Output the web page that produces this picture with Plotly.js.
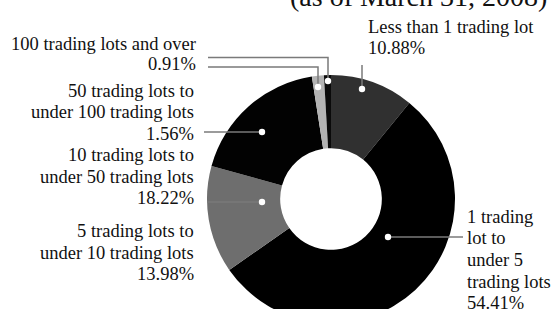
<!DOCTYPE html>
<html>
<head>
<meta charset="utf-8">
<script src="https://cdn.plot.ly/plotly-3.0.1.min.js"></script>
<style>
html,body{margin:0;padding:0;background:#fff;overflow:hidden;width:553px;height:309px;}
#chart{width:553px;height:340px;}
</style>
</head>
<body>
<div id="chart"></div>
<script>
// ---- data ----
const categories = [
  "Less than 1 trading lot",
  "1 trading lot to under 5 trading lots",
  "5 trading lots to under 10 trading lots",
  "10 trading lots to under 50 trading lots",
  "50 trading lots to under 100 trading lots",
  "100 trading lots and over"
];
const shares = [10.88, 54.41, 13.98, 18.22, 1.56, 0.91];
const labelLines = [
  ["Less than 1 trading lot"],
  ["1 trading", "lot to", "under 5", "trading lots"],
  ["5 trading lots to", "under 10 trading lots"],
  ["10 trading lots to", "under 50 trading lots"],
  ["50 trading lots to", "under 100 trading lots"],
  ["100 trading lots and over"]
];
const titleText = "(as of March 31, 2008)";

// ---- styling / layout ----
const W = 553, H = 340;
const px = x => x / W;
const py = y => 1 - y / H;
const sliceColors = ["#303030", "#000000", "#6e6e6e", "#020202", "#b3b3b3", "#0a0a0a"];
const FONT = "Liberation Serif, Times New Roman, serif";
const FS = 18.5;
const LS = 21.5;

// label placement: [anchor x px, xanchor, first line centre y px]
const labelPos = [
  [367, "left", 27],
  [466, "left", 217],
  [195, "right", 231],
  [195, "right", 155],
  [195, "right", 91],
  [197, "right", 44]
];
// leader lines (pixel paths); dot sits at the pie end
const leaders = [
  {pts: [[362, 65], [362, 89]], dot: 1},
  {pts: [[388, 237], [463, 237]], dot: 0},
  {pts: [[207, 202], [262, 202]], dot: 1},
  {pts: [[204, 132], [262, 132]], dot: 1},
  {pts: [[208, 57.5], [328, 57.5], [328, 81]], dot: 2},
  {pts: [[208, 67], [318, 67], [318, 87]], dot: 2}
];

const annotations = [];
// title (partly above the visible area, as in the reference)
annotations.push({
  text: titleText, showarrow: false, xref: "paper", yref: "paper",
  x: px(548), y: py(-4), xanchor: "right", yanchor: "middle",
  font: {family: FONT, size: 28, color: "#111"}, borderpad: 0
});
categories.forEach((c, i) => {
  const lines = labelLines[i].concat([shares[i].toFixed(2) + "%"]);
  const [ax, anc, y0] = labelPos[i];
  lines.forEach((t, k) => {
    annotations.push({
      text: t, showarrow: false, xref: "paper", yref: "paper",
      x: px(ax), y: py(y0 + k * (i === 5 ? 20 : LS)), xanchor: anc, yanchor: "middle",
      font: {family: FONT, size: FS, color: "#111"}, borderpad: 0
    });
  });
});

const shapes = [];
leaders.forEach(l => {
  const d = l.pts.map((p, k) => (k ? "L" : "M") + px(p[0]) + "," + py(p[1])).join(" ");
  shapes.push({type: "path", xref: "paper", yref: "paper", path: d,
    line: {color: "#7a7a7a", width: 1.5}});
});
leaders.forEach(l => {
  const p = l.pts[l.dot], r = 3.2;
  shapes.push({type: "circle", xref: "paper", yref: "paper",
    x0: px(p[0] - r), x1: px(p[0] + r), y0: py(p[1] + r), y1: py(p[1] - r),
    fillcolor: "#ffffff", line: {width: 0}});
});

const trace = {
  type: "pie",
  labels: categories,
  values: shares,
  sort: false,
  direction: "clockwise",
  rotation: 0,
  hole: 0.41,
  textinfo: "none",
  hoverinfo: "label+percent",
  marker: {colors: sliceColors, line: {width: 0}},
  domain: {x: [px(207), px(455)], y: [py(323), py(75)]},
  showlegend: false
};

const layout = {
  width: W, height: H,
  margin: {l: 0, r: 0, t: 0, b: 0},
  paper_bgcolor: "#ffffff",
  showlegend: false,
  annotations: annotations,
  shapes: shapes
};

Plotly.newPlot("chart", [trace], layout, {staticPlot: true, displayModeBar: false});
</script>
</body>
</html>
